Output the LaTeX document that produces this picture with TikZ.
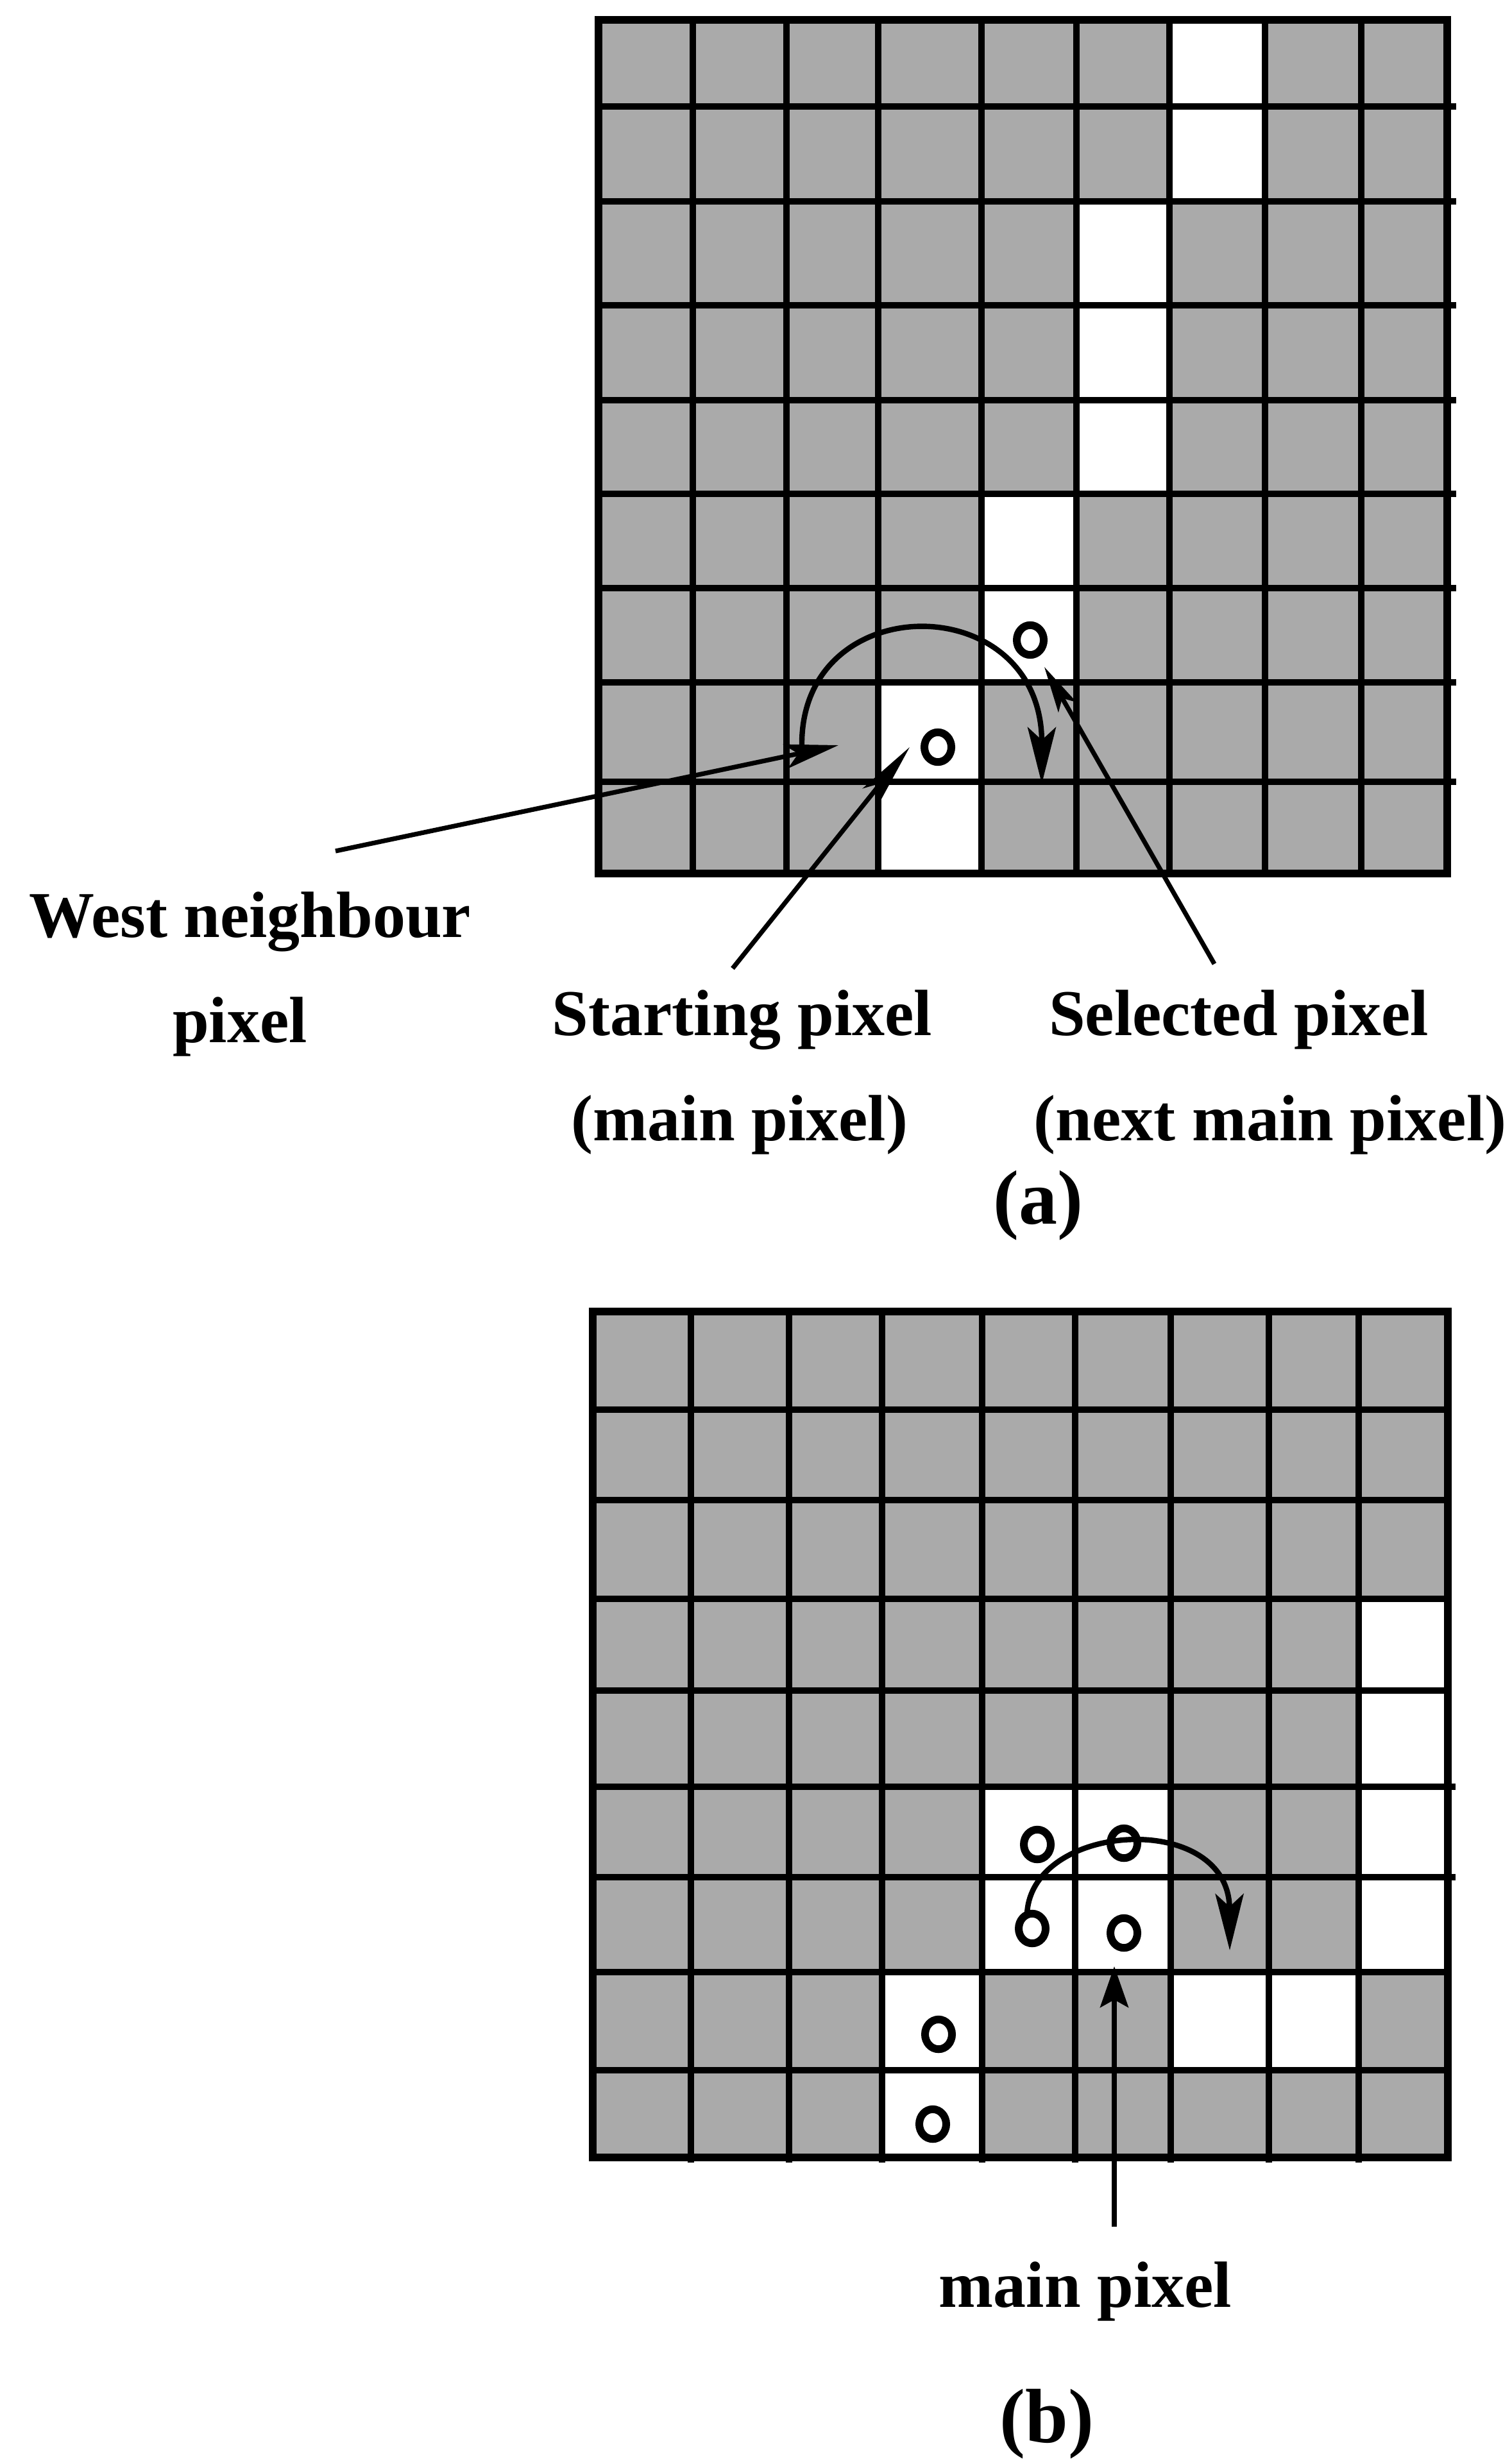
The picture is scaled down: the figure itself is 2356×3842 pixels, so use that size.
\documentclass[tikz,border=0pt]{standalone}
\usepackage{fontspec}
\setmainfont{Liberation Serif}
\usetikzlibrary{arrows.meta,shapes.geometric}
\definecolor{cellgray}{RGB}{170,170,170}
\begin{document}
\begin{tikzpicture}[x=0.25pt,y=-0.25pt,
  gridline/.style={line width=2.4pt},
  border/.style={line width=2.9pt, line join=miter},
  pin/.style={draw, ellipse, line width=3pt, inner sep=0pt, minimum width=10.5pt, minimum height=11.6pt},
  lbl/.style={font=\fontsize{25.5pt}{30pt}\selectfont\bfseries, anchor=base, inner sep=0pt},
  captxt/.style={font=\fontsize{30pt}{36pt}\selectfont\bfseries, anchor=base, inner sep=0pt},
  pointer/.style={line width=1.8pt},
  turn/.style={line width=2.1pt, -{Stealth[length=22pt,width=11pt,inset=5pt]}},
]
\useasboundingbox (0,0) rectangle (2356,3842);
\fill[white] (0,0) rectangle (2356,3842);

% ---------- grid (a) ----------
\foreach \x [count=\i from 0] in {933,1080,1226,1369,1530,1678,1823,1972,2122,2256}
  \coordinate (ac\i) at (\x,0);
\foreach \y [count=\i from 0] in {31,166,314,476,624,770,917,1064,1219,1362}
  \coordinate (ar\i) at (0,\y);
\fill[cellgray] (ac0|-ar0) rectangle (ac9|-ar9);
\foreach \c/\r in {6/0,6/1,5/2,5/3,5/4,4/5,4/6,3/7,3/8} {
  \pgfmathtruncatemacro\cn{\c+1}\pgfmathtruncatemacro\rn{\r+1}
  \fill[white] (ac\c|-ar\r) rectangle (ac\cn|-ar\rn);
}
\foreach \i in {1,...,8} {
  \draw[gridline] (ac\i|-ar0) -- (ac\i|-ar9);
  \draw[gridline] (ac0|-ar\i) -- ([xshift=3.5pt]ac9|-ar\i);
}
\draw[border] (ac0|-ar0) rectangle (ac9|-ar9);

% ---------- grid (b) ----------
\foreach \x [count=\i from 0] in {924,1077,1230,1375,1531,1676,1825,1978,2118,2257}
  \coordinate (bc\i) at (\x,0);
\foreach \y [count=\i from 0] in {2045,2198,2339,2493,2636,2786,2927,3075,3228,3364}
  \coordinate (br\i) at (0,\y);
\fill[cellgray] (bc0|-br0) rectangle (bc9|-br9);
\foreach \c/\r in {8/3,8/4,8/5,8/6,4/5,4/6,5/5,5/6,6/7,7/7,3/7,3/8} {
  \pgfmathtruncatemacro\cn{\c+1}\pgfmathtruncatemacro\rn{\r+1}
  \fill[white] (bc\c|-br\r) rectangle (bc\cn|-br\rn);
}
\foreach \i in {1,...,8} {
  \draw[gridline] (bc\i|-br0) -- ([yshift=-2pt]bc\i|-br9);
  \draw[gridline] (bc0|-br\i) -- (bc9|-br\i);
}
\draw[gridline] (bc9|-br5) -- ([xshift=3pt]bc9|-br5);
\draw[gridline] (bc9|-br6) -- ([xshift=3pt]bc9|-br6);
\draw[border] (bc0|-br0) rectangle (bc9|-br9);

% ---------- pixel marks ----------
\node[pin] (a1) at (1462,1165) {};
\node[pin] (a2) at (1606,998) {};
\node[pin] (b1) at (1617,2876) {};
\node[pin] (b2) at (1752,2874) {};
\node[pin] (b3) at (1609,3007) {};
\node[pin] (b4) at (1752,3014) {};
\node[pin] (b5) at (1463,3172) {};
\node[pin] (b6) at (1454,3312) {};

% ---------- labels ----------
\node[lbl] (wn1) at (390,1461) {West neighbour};
\node[lbl] (wn2) at (374,1625) {pixel};
\node[lbl] (sp1) at (1157,1614) {Starting pixel};
\node[lbl] (sp2) at (1153,1778) {(main pixel)};
\node[lbl] (sl1) at (1931,1614) {Selected pixel};
\node[lbl] (sl2) at (1980,1778) {(next main pixel)};
\node[captxt] (capa) at (1618,1908) {(a)};
\node[lbl] (mp) at (1692,3597) {main pixel};
\node[captxt] (capb) at (1632,3808) {(b)};

% ---------- pointers ----------
\coordinate (wnS) at (523,1327);  \coordinate (wnT) at (1307,1162);
\coordinate (spS) at (1142,1510); \coordinate (spT) at (1418,1165);
\coordinate (slS) at (1893,1503); \coordinate (slT) at (1628,1040);
\coordinate (mpS) at (1737,3472); \coordinate (mpT) at (1737,3066);
\draw[pointer, -{Stealth[length=21pt,width=9.5pt,inset=5pt]}] (wnS) -- (wnT);
\draw[pointer, -{Stealth[length=24pt,width=8.5pt,inset=6pt]}] (spS) -- (spT);
\draw[pointer, -{Stealth[length=18pt,width=8pt,inset=4pt]}] (slS) -- (slT);
\draw[pointer, -{Stealth[length=16pt,width=11pt,inset=3pt]}] (mpS) -- (mpT);

% ---------- search arcs ----------
\coordinate (arcA0) at (1250,1165); \coordinate (arcA1) at (1624,1222);
\draw[turn] (arcA0) .. controls (1245,915) and (1624,915) .. (arcA1);
\coordinate (arcB0) at (1601,2984); \coordinate (arcB1) at (1917,3041);
\draw[turn] (arcB0) .. controls (1608,2840) and (1916,2822) .. (arcB1);
\end{tikzpicture}
\end{document}
